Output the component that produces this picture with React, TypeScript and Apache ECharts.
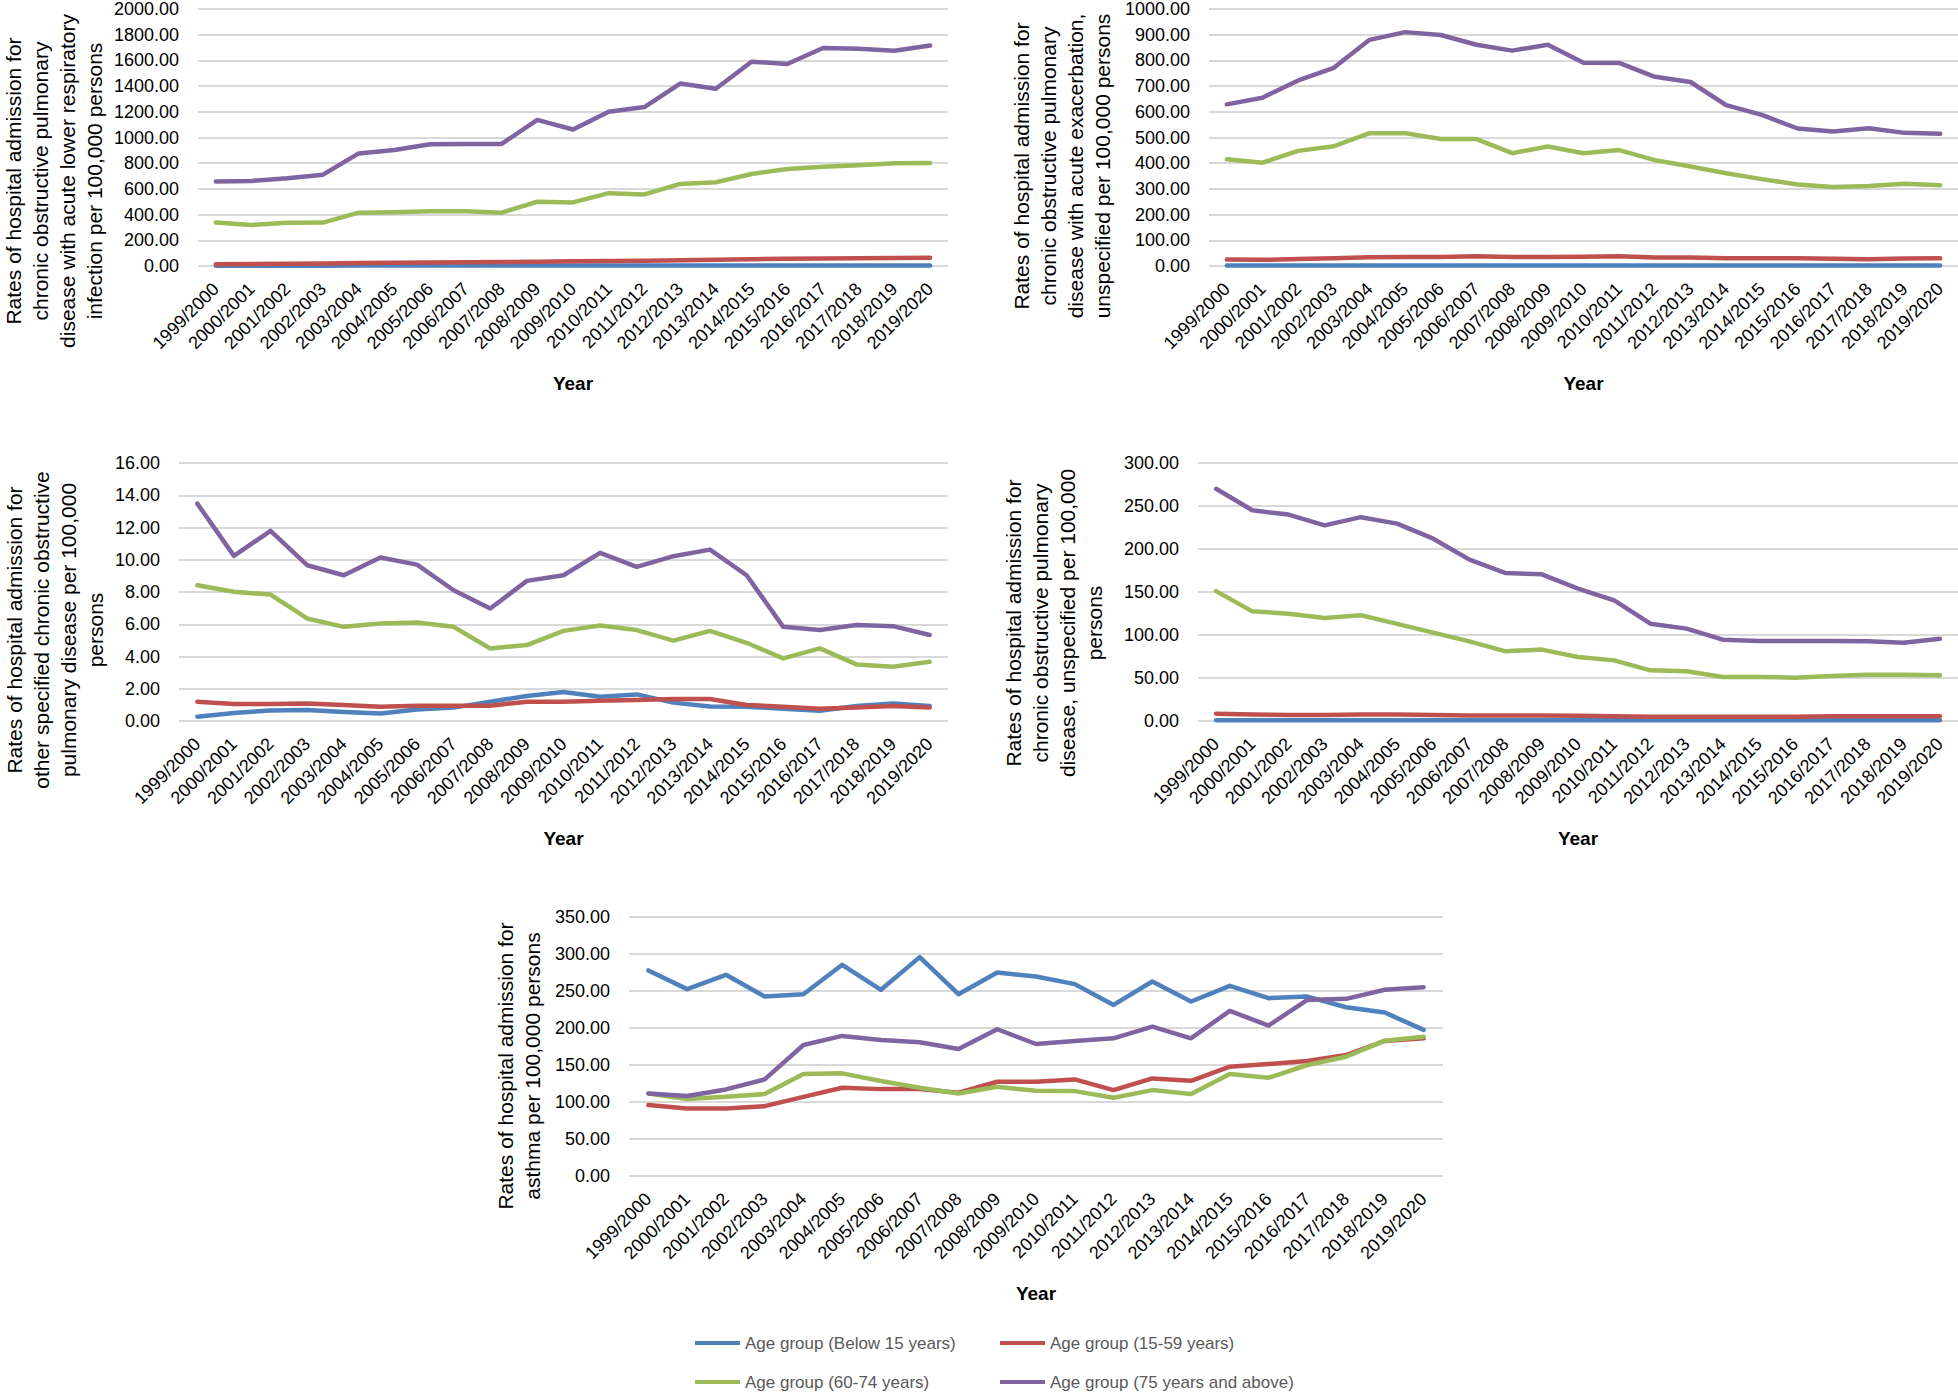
import React, { useEffect, useRef } from "react";
import * as echarts from "echarts";

const years = [
  "1999/2000", "2000/2001", "2001/2002", "2002/2003", "2003/2004", "2004/2005", "2005/2006",
  "2006/2007", "2007/2008", "2008/2009", "2009/2010", "2010/2011", "2011/2012", "2012/2013",
  "2013/2014", "2014/2015", "2015/2016", "2016/2017", "2017/2018", "2018/2019", "2019/2020",
];

const seriesNames = [
  "Age group (Below 15 years)",
  "Age group (15-59 years)",
  "Age group (60-74 years)",
  "Age group (75 years and above)",
];
const colors = ["#4F81BD", "#C0504D", "#9BBB59", "#8064A2"];

// Panel 1: COPD with acute lower respiratory infection
const lriBelow15 = [2, 2, 2, 2, 3, 3, 3, 3, 3, 3, 3, 4, 4, 4, 4, 4, 4, 4, 4, 4, 4];
const lri15to59 = [14, 16, 18, 20, 23, 25, 27, 29, 31, 33, 36, 39, 41, 45, 49, 53, 57, 58, 60, 63, 64];
const lri60to74 = [338, 320, 336, 338, 415, 418, 426, 426, 415, 500, 495, 567, 557, 639, 652, 716, 755, 773, 784, 799, 802];
const lri75plus = [657, 662, 683, 711, 876, 902, 948, 950, 950, 1137, 1062, 1201, 1237, 1420, 1379, 1590, 1572, 1696, 1691, 1675, 1716];

// Panel 2: COPD with acute exacerbation, unspecified
const exBelow15 = [2, 2, 2, 2, 2, 2, 2, 2, 2, 2, 2, 2, 2, 2, 2, 2, 2, 2, 2, 2, 2];
const ex15to59 = [25, 24, 27, 30, 34, 35, 35, 38, 35, 35, 36, 38, 33, 33, 30, 30, 30, 28, 26, 29, 30];
const ex60to74 = [415, 402, 448, 466, 517, 517, 494, 494, 439, 465, 439, 451, 412, 387, 361, 338, 317, 307, 311, 320, 314];
const ex75plus = [629, 655, 722, 771, 880, 910, 899, 861, 838, 861, 791, 790, 736, 716, 626, 588, 535, 523, 536, 518, 515];

// Panel 3: other specified COPD
const osBelow15 = [0.27, 0.5, 0.65, 0.68, 0.56, 0.47, 0.72, 0.83, 1.2, 1.55, 1.8, 1.5, 1.65, 1.14, 0.9, 0.89, 0.76, 0.64, 0.93, 1.09, 0.93];
const os15to59 = [1.2, 1.05, 1.05, 1.09, 0.99, 0.89, 0.95, 0.95, 0.95, 1.2, 1.2, 1.26, 1.3, 1.36, 1.36, 0.99, 0.89, 0.76, 0.83, 0.93, 0.83];
const os60to74 = [8.42, 8.01, 7.84, 6.36, 5.84, 6.05, 6.11, 5.84, 4.5, 4.71, 5.59, 5.92, 5.64, 4.98, 5.59, 4.85, 3.88, 4.5, 3.51, 3.36, 3.67];
const os75plus = [13.48, 10.24, 11.79, 9.66, 9.04, 10.14, 9.7, 8.11, 6.98, 8.69, 9.04, 10.43, 9.56, 10.22, 10.63, 9.04, 5.84, 5.64, 5.95, 5.88, 5.33];

// Panel 4: COPD, unspecified
const unBelow15 = [1, 1, 1, 1, 1, 1, 1, 1, 1, 1, 1, 0.8, 0.8, 0.8, 0.8, 0.8, 0.8, 0.8, 0.8, 0.8, 0.8];
const un15to59 = [8.5, 7.5, 7, 7, 7.5, 7.5, 7, 6.5, 6.5, 6.5, 6, 5.5, 5, 5, 5, 5, 5, 5.5, 5.5, 5.5, 5.5];
const un60to74 = [151, 127.5, 124.8, 119.8, 122.9, 113, 102.7, 92.6, 81, 83, 74.4, 70.5, 58.9, 57.8, 51.2, 51.2, 50.4, 52.3, 53.9, 53.9, 53.1];
const un75plus = [270, 245, 240, 227.5, 237, 229.5, 212, 187.6, 172, 170.5, 153.9, 140.3, 113.2, 107.4, 94.6, 93, 93, 93, 92.6, 91, 95.7];

// Panel 5: asthma
const asBelow15 = [277.8, 252.5, 271.9, 242.5, 245.7, 285.4, 251.6, 295.8, 245.7, 275, 269.6, 259.3, 231.2, 262.9, 235.8, 257, 240.3, 242.5, 228.1, 220.9, 197.4];
const as15to59 = [95.8, 91.2, 91.2, 94.4, 107, 119.2, 117.4, 117.4, 112.5, 127.4, 127.4, 130.5, 116.1, 131.9, 128.7, 147.7, 151.3, 155.4, 163.5, 182.5, 186.1];
const as60to74 = [111.6, 103.9, 107, 110.7, 137.8, 138.7, 128.3, 119.2, 111.6, 120.6, 115.2, 114.7, 105.7, 116.1, 110.7, 137.8, 132.8, 150, 161.2, 182.9, 188.3];
const as75plus = [111.6, 108, 117, 130.5, 177, 189.3, 183.8, 180.7, 171.6, 198.3, 178.4, 182.5, 186.1, 201.9, 186.1, 223.1, 203.3, 238, 239.4, 251.6, 255.2];

// Axis ranges
const yMax = [2000, 1000, 16, 300, 350];
const yStep = [200, 100, 2, 50, 50];

// Axis titles
const yTitles = [
  ["Rates of hospital admission for", "chronic obstructive pulmonary", "disease with acute lower respiratory", "infection per 100,000 persons"],
  ["Rates of hospital admission for", "chronic obstructive pulmonary", "disease with acute exacerbation,", "unspecified per 100,000 persons"],
  ["Rates of hospital admission for", "other specified chronic obstructive", "pulmonary disease per 100,000", "persons"],
  ["Rates of hospital admission for", "chronic obstructive pulmonary", "disease, unspecified per 100,000", "persons"],
  ["Rates of hospital admission for", "asthma per 100,000 persons"],
];
const xTitle = "Year";

const panelData = [
  [lriBelow15, lri15to59, lri60to74, lri75plus],
  [exBelow15, ex15to59, ex60to74, ex75plus],
  [osBelow15, os15to59, os60to74, os75plus],
  [unBelow15, un15to59, un60to74, un75plus],
  [asBelow15, as15to59, as60to74, as75plus],
];

// Layout (pixels)
const grids = [
  { left: 198, top: 7, width: 750, height: 259 },
  { left: 1209, top: 7, width: 749, height: 259 },
  { left: 179, top: 463, width: 769, height: 258 },
  { left: 1198, top: 463, width: 760, height: 258 },
  { left: 629, top: 917, width: 814, height: 259 },
];
const titlePos = [
  [54, 181],
  [1062, 166],
  [55, 630],
  [1054, 623],
  [519, 1066],
];
const legendPos = [
  [695, 1333],
  [1000, 1333],
  [695, 1372],
  [1000, 1372],
];

const FONT = '"Liberation Sans", Arial, sans-serif';

export default function App() {
  const ref = useRef<HTMLDivElement>(null);

  useEffect(() => {
    if (!ref.current) return;
    const chart = echarts.init(ref.current, undefined, { renderer: "svg" });

    const xAxes = grids.map((_, i) => ({
      type: "category",
      gridIndex: i,
      data: years,
      boundaryGap: true,
      axisLine: { show: false },
      axisTick: { show: false },
      axisLabel: {
        interval: 0,
        rotate: 45,
        margin: 20,
        fontSize: 18,
        fontFamily: FONT,
        color: "#000",
      },
      name: xTitle,
      nameLocation: "middle",
      nameGap: 108,
      nameTextStyle: { fontSize: 19, fontWeight: "bold", fontFamily: FONT, color: "#000" },
    }));

    const yAxes = grids.map((_, i) => ({
      type: "value",
      gridIndex: i,
      min: 0,
      max: yMax[i],
      interval: yStep[i],
      axisLine: { show: false },
      axisTick: { show: false },
      splitLine: { show: true, lineStyle: { color: "#D9D9D9", width: 2 } },
      axisLabel: {
        margin: 19,
        fontSize: 18,
        fontFamily: FONT,
        color: "#000",
        formatter: (v: number) => v.toFixed(2),
      },
    }));

    const series: any[] = [];
    panelData.forEach((arrs, p) => {
      arrs.forEach((vals, s) => {
        series.push({
          type: "line",
          name: seriesNames[s],
          xAxisIndex: p,
          yAxisIndex: p,
          data: vals,
          showSymbol: false,
          symbol: "none",
          lineStyle: { width: 4.5, color: colors[s], cap: "round", join: "round" },
          itemStyle: { color: colors[s] },
        });
      });
    });

    const legends = seriesNames.map((n, i) => ({
      show: true,
      data: [n],
      left: legendPos[i][0],
      top: legendPos[i][1],
      padding: 0,
      icon: "rect",
      itemWidth: 45,
      itemHeight: 4,
      selectedMode: false,
      textStyle: { fontSize: 17, fontFamily: FONT, color: "#595959", lineHeight: 20 },
    }));

    const graphics = yTitles.map((lines, i) => ({
      type: "text",
      x: titlePos[i][0],
      y: titlePos[i][1],
      rotation: Math.PI / 2,
      style: {
        text: lines.join("\n"),
        fontSize: 21,
        fontFamily: FONT,
        fill: "#000",
        lineHeight: 27,
        align: "center",
        verticalAlign: "middle",
        textAlign: "center",
        textVerticalAlign: "middle",
      },
    }));

    chart.setOption({
      animation: false,
      backgroundColor: "#fff",
      color: colors,
      grid: grids.map((g) => ({ ...g, containLabel: false })),
      xAxis: xAxes,
      yAxis: yAxes,
      series,
      legend: legends,
      graphic: graphics,
    });

    return () => chart.dispose();
  }, []);

  return (
    <div
      ref={ref}
      style={{ position: "absolute", left: 0, top: 0, width: 1958, height: 1392 }}
    />
  );
}
